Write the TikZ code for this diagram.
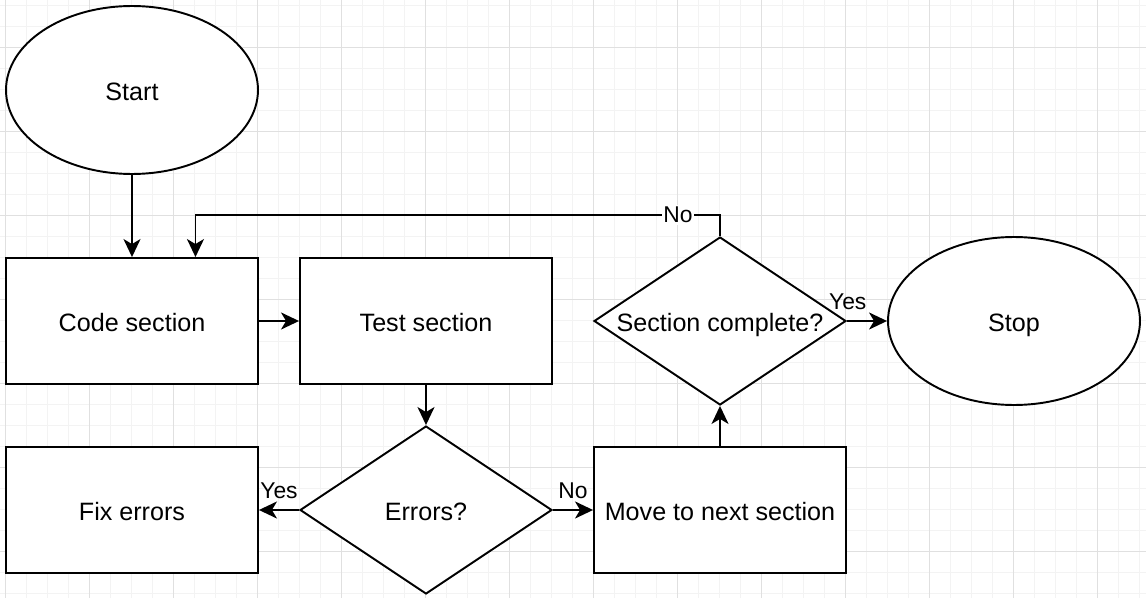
\documentclass[tikz,border=0pt]{standalone}
\usepackage{fontspec}
\setmainfont{Liberation Sans}
\usetikzlibrary{positioning,shapes.geometric,arrows.meta,calc}
\usepackage{color}
\definecolor{gridminor}{RGB}{243,243,243}
\definecolor{gridmajor}{RGB}{224,224,224}
\tikzset{
    terminal/.style={
        ellipse,
        draw=black,
        fill=white,
        line width=1.1pt,
        minimum width=5.04cm,
        minimum height=3.36cm,
        text height=12.5pt,
        text depth=0pt,
        font=\fontsize{14.3}{17}\selectfont
    },
    process/.style={
        rectangle,
        draw=black,
        fill=white,
        line width=1.1pt,
        minimum width=5.04cm,
        minimum height=2.52cm,
        text height=12.5pt,
        text depth=0pt,
        font=\fontsize{14.3}{17}\selectfont
    },
    decision/.style={
        diamond,
        draw=black,
        fill=white,
        line width=1.1pt,
        inner sep=0pt,
        minimum width=5.04cm,
        minimum height=3.36cm,
        label={[font=\fontsize{14.3}{17}\selectfont, text height=12.5pt, text depth=0pt]center:#1}
    },
    flow/.style={
        draw=black,
        line width=1.1pt,
        -{Stealth[length=0.36cm,width=0.34cm,inset=0.1cm]}
    },
    answer/.style={
        font=\fontsize{13}{15}\selectfont,
        text=black
    }
}

\begin{document}
\begin{tikzpicture}[x=0.02cm,y=-0.02cm]
    \useasboundingbox (0,0) rectangle (1146,598);

    % Grid
    \foreach \x in {5,26,...,1145} {
        \draw[gridminor, line width=0.5pt] (\x,0) -- (\x,598);
    }
    \foreach \y in {5,26,...,597} {
        \draw[gridminor, line width=0.5pt] (0,\y) -- (1146,\y);
    }
    \foreach \x in {5,89,...,1145} {
        \draw[gridmajor, line width=0.5pt] (\x,0) -- (\x,598);
    }
    \foreach \y in {47,131,...,597} {
        \draw[gridmajor, line width=0.5pt] (0,\y) -- (1146,\y);
    }

    % Start / Stop
    \node[terminal] (start) at (132,90) {Start};
    \node[terminal] (stop) at (1014,321) {Stop};

    % Steps
    \node[process] (code) at (132,321) {Code section};
    \node[process] (test) at (426,321) {Test section};
    \node[process] (fix) at (132,510) {Fix errors};
    \node[process] (move) at (720,510) {Move to next section};

    % Decisions
    \node[decision={Errors?}] (errors) at (426,510) {};
    \node[decision={Section complete?}] (complete) at (720,321) {};

    % Flow
    \draw[flow] (start) -- (code);
    \draw[flow] (code) -- (test);
    \draw[flow] (test) -- (errors);
    \draw[flow] (errors) -- node[answer, midway, above=2.5pt] {Yes} (fix);
    \draw[flow] (errors) -- node[answer, midway, above=2.5pt] {No} (move);
    \draw[flow] (move) -- (complete);
    \draw[flow] (complete) -- node[answer, pos=0.02, above=2.5pt] {Yes} (stop);

    % Back to coding
    \coordinate (backin) at ($(code.north west)!0.75!(code.north east)$);
    \draw[flow] (complete.north) -- ++(0,-21)
        -| node[answer, pos=0.04, fill=white, inner sep=1pt] {No} (backin);
\end{tikzpicture}
\end{document}
